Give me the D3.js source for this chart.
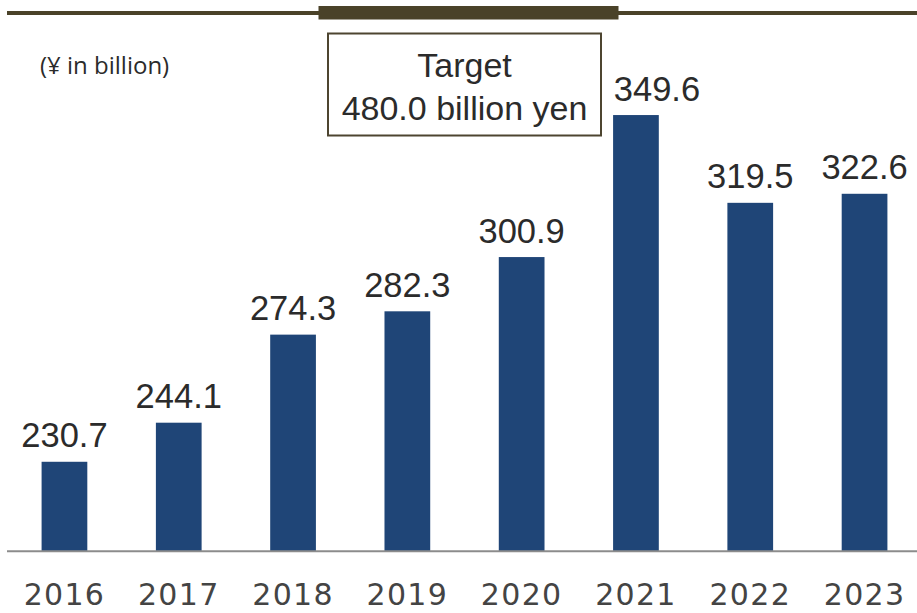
<!DOCTYPE html>
<html>
<head>
<meta charset="utf-8">
<script src="https://cdn.jsdelivr.net/npm/d3@7/dist/d3.min.js"></script>
<style>
  html, body { margin: 0; padding: 0; background: #ffffff; }
  svg { display: block; }
</style>
</head>
<body>
<svg id="chart" width="917" height="613"></svg>
<script>
// Revenue by fiscal year (¥ in billion)
const years = ["2016", "2017", "2018", "2019", "2020", "2021", "2022", "2023"];
const revenue = [230.7, 244.1, 274.3, 282.3, 300.9, 349.6, 319.5, 322.6];
const valueLabels = ["230.7", "244.1", "274.3", "282.3", "300.9", "349.6", "319.5", "322.6"];
const unitLabel = "(¥ in billion)";
const targetLines = ["Target", "480.0 billion yen"];

const W = 917, H = 613;
const svg = d3.select("#chart");

const barColor = "#1f4577";
const ruleColor = "#4a4229";
const textColor = "#2b2b2b";

// Band scale for the years, linear scale for revenue (axis starts at 200)
const x = d3.scaleBand()
  .domain(years)
  .range([7.3, 921.7])
  .paddingInner(0.6)
  .paddingOuter(0.3);

const y = d3.scaleLinear()
  .domain([200, 380])
  .range([551.3, 26.4]);

// Decorative header rule with a thicker centre segment
svg.append("rect")
  .attr("x", 7).attr("y", 11)
  .attr("width", W - 7).attr("height", 4)
  .attr("fill", ruleColor);
svg.append("rect")
  .attr("x", 318.5).attr("y", 6)
  .attr("width", 300).attr("height", 13.5)
  .attr("fill", ruleColor);

// Unit note
svg.append("text")
  .attr("x", 40).attr("y", 74.3)
  .attr("font-family", "'Open Sans', sans-serif")
  .attr("font-size", 24)
  .attr("fill", textColor)
  .text(unitLabel);

// Bars
svg.append("g")
  .selectAll("rect")
  .data(years)
  .join("rect")
  .attr("x", d => x(d))
  .attr("width", x.bandwidth())
  .attr("y", (d, i) => y(revenue[i]))
  .attr("height", (d, i) => y(200) - y(revenue[i]))
  .attr("fill", barColor);

// Value labels above the bars; the 2021 label is nudged right to clear the target box
svg.append("g")
  .selectAll("text")
  .data(years)
  .join("text")
  .attr("x", (d, i) => x(d) + x.bandwidth() / 2 + (d === "2021" ? 21 : 0))
  .attr("y", (d, i) => y(revenue[i]) - 14.5)
  .attr("text-anchor", "middle")
  .attr("font-family", "'Liberation Sans', Arial, sans-serif")
  .attr("font-size", 34.5)
  .attr("fill", textColor)
  .text((d, i) => valueLabels[i]);

// Baseline axis with year labels
const xAxis = d3.axisBottom(x).tickSize(0).tickPadding(0);
const axisG = svg.append("g")
  .attr("transform", `translate(0,${y(200)})`)
  .call(xAxis);
axisG.select(".domain").remove();
axisG.append("line")
  .attr("x1", 7).attr("x2", W)
  .attr("y1", 0).attr("y2", 0)
  .attr("stroke", "#8c8c8c")
  .attr("stroke-width", 2);
axisG.selectAll(".tick text")
  .attr("y", 54)
  .attr("dy", null)
  .attr("font-family", "'DejaVu Sans', Verdana, sans-serif")
  .attr("font-size", 30)
  .attr("letter-spacing", 1.3)
  .attr("fill", "#444444");

// Target call-out box
const box = svg.append("g");
box.append("rect")
  .attr("x", 328).attr("y", 33.5)
  .attr("width", 273).attr("height", 102)
  .attr("fill", "#ffffff")
  .attr("stroke", "#4d4530")
  .attr("stroke-width", 2);
box.selectAll("text")
  .data(targetLines)
  .join("text")
  .attr("x", 464.5)
  .attr("y", (d, i) => 77 + i * 43)
  .attr("text-anchor", "middle")
  .attr("font-family", "'Liberation Sans', Arial, sans-serif")
  .attr("font-size", 34)
  .attr("fill", textColor)
  .text(d => d);
</script>
</body>
</html>
